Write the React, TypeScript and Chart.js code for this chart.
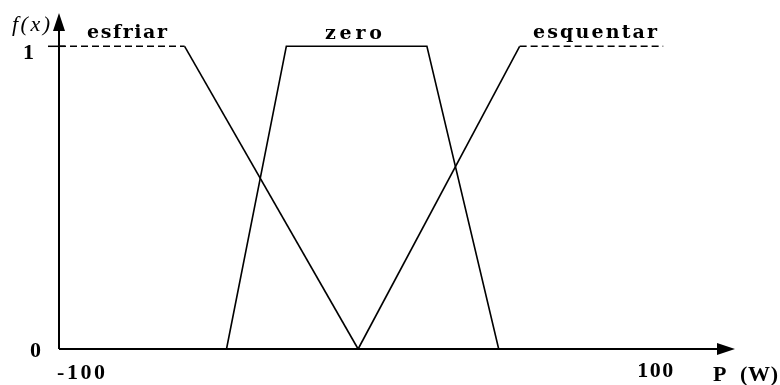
import React, { useEffect, useRef } from 'react';
import { Chart, registerables } from 'chart.js';

Chart.register(...registerables);

// ---- data ----
const esfriarX = [-100, -58, 0];
const esfriarY = [1, 1, 0];
const zeroX = [-44, -24, 23, 47];
const zeroY = [0, 1, 1, 0];
const esquentarX = [0, 54, 102];
const esquentarY = [0, 1, 1];
const setNames = ['esfriar', 'zero', 'esquentar'];
const xTickValues = [-100, 100];
const xTickLabels = ['-100', '100'];
const yTickValues = [0, 1];
const yTickLabels = ['0', '1'];
const yAxisTitle = 'f(x)';
const xAxisTitle = ['P', '(W)'];

const toPoints = (xs: number[], ys: number[]) => xs.map((x, i) => ({ x, y: ys[i] }));

function fitText(ctx: CanvasRenderingContext2D, text: string, left: number, baseline: number, width: number) {
  (ctx as any).letterSpacing = '0px';
  const w = ctx.measureText(text).width;
  const n = text.length;
  const sp = n > 1 ? (width - w) / (n - 1) : 0;
  (ctx as any).letterSpacing = sp.toFixed(2) + 'px';
  ctx.textAlign = 'left';
  ctx.textBaseline = 'alphabetic';
  ctx.fillText(text, left, baseline);
  (ctx as any).letterSpacing = '0px';
}

const decorPlugin = {
  id: 'decor',
  afterDatasetsDraw(chart: any) {
    const ctx: CanvasRenderingContext2D = chart.ctx;
    const xs = chart.scales.x;
    const ys = chart.scales.y;
    const x0 = xs.getPixelForValue(xs.min);
    const y0 = ys.getPixelForValue(0);
    const top = chart.chartArea.top;
    const right = chart.chartArea.right;
    ctx.save();
    ctx.strokeStyle = '#000';
    ctx.fillStyle = '#000';
    ctx.lineWidth = 2;
    // x axis
    ctx.beginPath();
    ctx.moveTo(x0, y0);
    ctx.lineTo(right - 12, y0);
    ctx.stroke();
    ctx.beginPath();
    ctx.moveTo(right, y0);
    ctx.lineTo(right - 18, y0 - 6);
    ctx.lineTo(right - 18, y0 + 6);
    ctx.closePath();
    ctx.fill();
    // y axis
    ctx.beginPath();
    ctx.moveTo(x0, y0);
    ctx.lineTo(x0, top + 12);
    ctx.stroke();
    ctx.beginPath();
    ctx.moveTo(x0, top);
    ctx.lineTo(x0 - 6, top + 18);
    ctx.lineTo(x0 + 6, top + 18);
    ctx.closePath();
    ctx.fill();
    // tick at y = 1
    const y1 = ys.getPixelForValue(1);
    ctx.lineWidth = 1.5;
    ctx.beginPath();
    ctx.moveTo(x0 - 11, y1);
    ctx.lineTo(x0 + 6, y1);
    ctx.stroke();

    // set names
    ctx.font = 'bold 19px "DejaVu Serif"';
    fitText(ctx, setNames[0], 87, 38, 80);
    fitText(ctx, setNames[1], 325, 39, 57);
    fitText(ctx, setNames[2], 533, 38, 124);

    ctx.font = 'bold 22px "Liberation Serif"';
    // y tick labels
    fitText(ctx, yTickLabels[1], 23, ys.getPixelForValue(yTickValues[1]) + 13, 11);
    fitText(ctx, yTickLabels[0], 30, ys.getPixelForValue(yTickValues[0]) + 8, 13);
    // x tick labels
    fitText(ctx, xTickLabels[0], xs.getPixelForValue(xTickValues[0]) - 2, y0 + 30, 48);
    const p100 = xs.getPixelForValue(xTickValues[1]);
    fitText(ctx, xTickLabels[1], p100 - 20, y0 + 28, 36);
    // axis titles
    fitText(ctx, xAxisTitle[0], 713, 381, 15);
    fitText(ctx, xAxisTitle[1], 740, 381, 38);
    ctx.font = 'italic 22px "Liberation Serif"';
    fitText(ctx, yAxisTitle, 12, 31, 38);
    ctx.restore();
  },
};

export default function App() {
  const ref = useRef<HTMLCanvasElement | null>(null);
  useEffect(() => {
    if (!ref.current) return;
    const common = {
      borderColor: '#000',
      borderWidth: 1.6,
      pointRadius: 0,
      fill: false,
      tension: 0,
      clip: false as any,
    };
    const chart = new Chart(ref.current, {
      type: 'line',
      data: {
        datasets: [
          {
            ...common,
            label: setNames[0],
            data: toPoints(esfriarX, esfriarY),
            segment: { borderDash: (c: any) => (c.p0DataIndex === 0 ? [7, 4] : undefined) },
          },
          {
            ...common,
            label: setNames[1],
            data: toPoints(zeroX, zeroY),
          },
          {
            ...common,
            label: setNames[2],
            data: toPoints(esquentarX, esquentarY),
            segment: { borderDash: (c: any) => (c.p0DataIndex === 1 ? [7, 4] : undefined) },
          },
        ],
      } as any,
      options: {
        responsive: false,
        animation: false,
        devicePixelRatio: 1,
        layout: { padding: { left: 59, right: 45, top: 13, bottom: 36 } },
        plugins: { legend: { display: false }, tooltip: { enabled: false }, title: { display: false } },
        scales: {
          x: { type: 'linear', min: -100, max: 126, display: false },
          y: { type: 'linear', min: 0, max: 1.11, display: false },
        },
      } as any,
      plugins: [decorPlugin],
    });
    return () => chart.destroy();
  }, []);
  return (
    <div style={{ position: 'absolute', left: 0, top: 0, width: 780, height: 385, background: '#fff' }}>
      <canvas ref={ref} width={780} height={385} style={{ display: 'block' }} />
    </div>
  );
}
